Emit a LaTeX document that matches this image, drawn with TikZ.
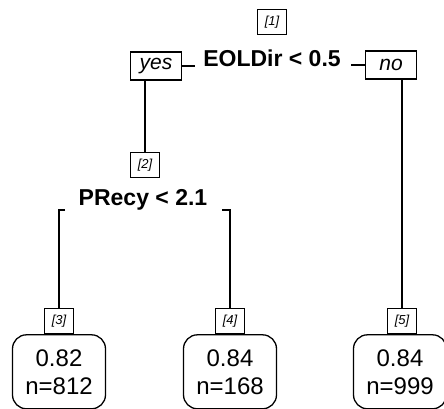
\documentclass[tikz,border=0pt]{standalone}
\usepackage{fontspec}
\setmainfont{Liberation Sans}
\usetikzlibrary{positioning}

\tikzset{
  idbox/.style={draw, line width=1.3pt, inner sep=0pt, minimum width=29pt, minimum height=25pt,
    font=\fontsize{13}{13}\selectfont\itshape},
  splittxt/.style={inner sep=0pt, font=\fontsize{23}{23}\selectfont\bfseries},
  yesno/.style={draw, line width=1.3pt, inner sep=0pt, minimum width=51pt, minimum height=28pt,
    font=\fontsize{21}{21}\selectfont\itshape},
  leaf/.style={draw, line width=1.3pt, rounded corners=14pt, inner sep=0pt, minimum width=93pt,
    minimum height=74pt, align=center, font=\fontsize{24}{28}\selectfont}
}

\begin{document}
\begin{tikzpicture}[x=1pt, y=-1pt, line width=1.3pt]
\useasboundingbox (0,0) rectangle (444,409);

\node[idbox] (id1) at (272,22) {[1]};
\node[splittxt] (s1) at (272,58) {EOLDir < 0.5};
\node[yesno] (yes) at (156,66) {yes};
\node[yesno] (no) at (391,65) {no};
\node[idbox] (id2) at (145,165) {[2]};
\node[splittxt] (s2) at (143,200) {PRecy < 2.1};
\node[idbox] (id3) at (59,321) {[3]};
\node[idbox] (id4) at (230,321) {[4]};
\node[idbox] (id5) at (402,321) {[5]};
\node[leaf, below=0pt of id3] (leaf3) {0.82\\n=812};
\node[leaf, below=0pt of id4] (leaf4) {0.84\\n=168};
\node[leaf, below=0pt of id5, xshift=-2pt] (leaf5) {0.84\\n=999};

\coordinate (b3) at (65,210);
\coordinate (b4) at (222,210);

\draw (yes.east) -- ([xshift=-8pt]s1.west |- yes.east);
\draw ([xshift=10pt]s1.east |- no.west) -- (no.west);
\draw (id2.north |- yes.south) -- (id2.north);
\draw (id5.north |- no.south) -- (id5.north);
\draw (b3) -- (b3 -| id3) -- (id3.north);
\draw (b4) -- (b4 -| id4) -- (id4.north);
\end{tikzpicture}
\end{document}
